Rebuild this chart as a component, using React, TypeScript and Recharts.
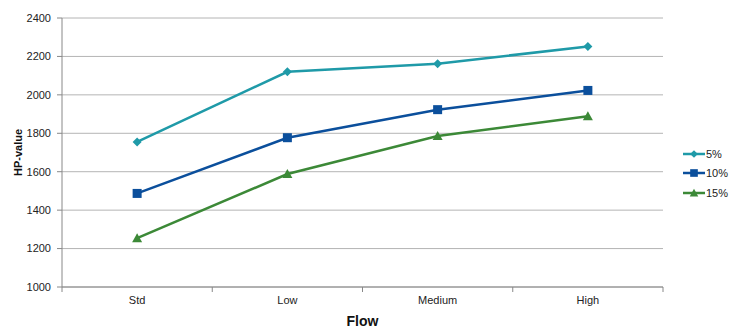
import React from 'react';
import { LineChart, Line, XAxis, YAxis, CartesianGrid } from 'recharts';

const categories = ['Std', 'Low', 'Medium', 'High'];
const pct5 = [1755, 2120, 2162, 2252];
const pct10 = [1487, 1777, 1923, 2023];
const pct15 = [1254, 1588, 1786, 1889];
const yTicks = [1000, 1200, 1400, 1600, 1800, 2000, 2200, 2400];

const series = [
  { key: 'p5', name: '5%', color: '#1F9AA8', shape: 'diamond' },
  { key: 'p10', name: '10%', color: '#0B4F9C', shape: 'square' },
  { key: 'p15', name: '15%', color: '#3C8937', shape: 'triangle' },
];

const data = categories.map((c, i) => ({
  flow: c,
  p5: pct5[i],
  p10: pct10[i],
  p15: pct15[i],
}));

const FONT = '"Liberation Sans", Arial, sans-serif';

const Marker = ({ cx, cy, color, shape, s = 1 }: any) => {
  if (cx == null || cy == null) return null;
  if (shape === 'diamond') {
    const r = 4.5 * s;
    return <polygon points={`${cx},${cy - r} ${cx + r},${cy} ${cx},${cy + r} ${cx - r},${cy}`} fill={color} />;
  }
  if (shape === 'square') {
    const r = 4.5 * s;
    return <rect x={cx - r} y={cy - r} width={r * 2} height={r * 2} fill={color} />;
  }
  const r = 5 * s;
  return <polygon points={`${cx},${cy - r} ${cx + r},${cy + r * 0.8} ${cx - r},${cy + r * 0.8}`} fill={color} />;
};

// x tick: label at category centre, tick mark at the category boundary
const XTick = ({ x, payload, index }: any) => {
  const off = payload.offset || 0;
  const y0 = 287;
  return (
    <g>
      <line x1={x - off} x2={x - off} y1={y0} y2={y0 + 5} stroke="#888" />
      {index === categories.length - 1 && (
        <line x1={x + off} x2={x + off} y1={y0} y2={y0 + 5} stroke="#888" />
      )}
      <text x={x} y={y0 + 17} textAnchor="middle" fontSize={11} fontFamily={FONT} fill="#222">
        {payload.value}
      </text>
    </g>
  );
};

const Legend = () => (
  <div style={{ position: 'absolute', left: 683, top: 144, width: 48, whiteSpace: 'nowrap', fontFamily: FONT, fontSize: 11, color: '#222' }}>
    {series.map((s) => (
      <div key={s.key} style={{ display: 'flex', alignItems: 'center', height: 19.5 }}>
        <svg width={22} height={12}>
          <line x1={0} x2={22} y1={6} y2={6} stroke={s.color} strokeWidth={2.5} />
          <Marker cx={11} cy={6} color={s.color} shape={s.shape} s={0.85} />
        </svg>
        <span style={{ marginLeft: 1 }}>{s.name}</span>
      </div>
    ))}
  </div>
);

export default function App() {
  return (
    <div style={{ position: 'absolute', left: 0, top: 0, width: 731, height: 334, overflow: 'hidden', background: '#fff' }}>
      <LineChart
        width={731}
        height={334}
        data={data}
        margin={{ top: 18, right: 68, bottom: 0, left: 0 }}
      >
        <CartesianGrid vertical={false} stroke="#B4B4B4" strokeWidth={1} />
        <XAxis
          dataKey="flow"
          scale="band"
          height={47}
          stroke="#888"
          tickLine={false}
          tick={<XTick />}
          label={{
            value: 'Flow',
            position: 'insideBottom',
            offset: 8,
            style: { fontFamily: FONT, fontSize: 14, fontWeight: 'bold', fill: '#111' },
          }}
        />
        <YAxis
          width={62}
          domain={[1000, 2400]}
          ticks={yTicks}
          interval={0}
          stroke="#888"
          tickSize={5}
          tickMargin={6}
          tick={{ fontFamily: FONT, fontSize: 11, fill: '#222' }}
          label={{
            value: 'HP-value',
            angle: -90,
            position: 'insideLeft',
            offset: 18,
            style: { textAnchor: 'middle', fontFamily: FONT, fontSize: 11, fontWeight: 'bold', fill: '#111' },
          }}
        />
        {series.map((s) => (
          <Line
            key={s.key}
            dataKey={s.key}
            name={s.name}
            stroke={s.color}
            strokeWidth={2.5}
            isAnimationActive={false}
            dot={(p: any) => <Marker key={`${s.key}-${p.index}`} cx={p.cx} cy={p.cy} color={s.color} shape={s.shape} />}
            activeDot={false}
          />
        ))}
      </LineChart>
      <Legend />
    </div>
  );
}
